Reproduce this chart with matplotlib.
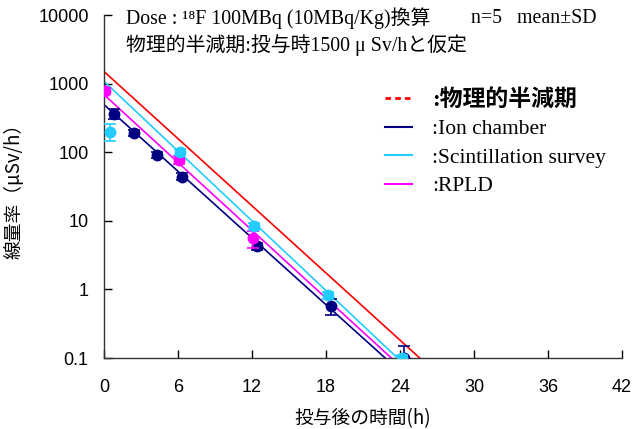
import numpy as np
import matplotlib.pyplot as plt
from matplotlib.lines import Line2D
from matplotlib.ticker import FixedLocator, FixedFormatter, NullLocator

# measured dose rates (mean, SD), n=5
ion_t = [0.8, 2.4, 4.3, 6.3, 12.4, 18.4, 24.3]
ion_y = [360, 190, 92, 44, 4.3, 0.58, 0.10]
ion_sd = [60, 20, 10, 5, 0.5, 0.15, 0.05]

sci_t = [0.5, 6.2, 12.2, 18.2, 24.2]
sci_y = [200, 100, 8.3, 0.82, 0.10]
sci_sd = [55, 10, 1.0, 0.1, 0.01]

rpld_t = [0.05, 6.05, 12.05]
rpld_y = [780, 78, 5.6]
rpld_sd = [80, 10, 1.6]

# decay lines: value at t=0 and time where they reach 0.1 uSv/h
phys_t = [0, 25.6]
phys_y = [1500, 0.1]
ion_fit_t = [0, 22.8]
ion_fit_y = [494, 0.1]
sci_fit_t = [0, 23.8]
sci_fit_y = [1080, 0.1]
rpld_fit_t = [0, 23.3]
rpld_fit_y = [690, 0.1]

RED = '#ff0000'
NAVY = '#000080'
CYAN = '#22ccff'
MAG = '#ff00ff'

jp = ['Noto Sans CJK JP', 'DejaVu Sans']
mix = ['Liberation Serif', 'DejaVu Serif', 'Noto Sans CJK JP']
num = ['Liberation Sans', 'DejaVu Sans']

fig = plt.figure(figsize=(6.32, 4.29), dpi=100)
ax = fig.add_axes([0.1646, 0.1655, 0.8194, 0.7995])

ax.plot(phys_t, phys_y, color=RED, lw=1.2, zorder=2)
ax.plot(sci_fit_t, sci_fit_y, color=CYAN, lw=1.2, zorder=2)
ax.plot(rpld_fit_t, rpld_fit_y, color=MAG, lw=1.2, zorder=2)
ax.plot(ion_fit_t, ion_fit_y, color=NAVY, lw=1.2, zorder=2)

ax.errorbar(ion_t, ion_y, yerr=ion_sd, fmt='o', color=NAVY, ms=7.5,
            capsize=4, elinewidth=1.2, capthick=1.2, zorder=3)
ax.errorbar(rpld_t, rpld_y, yerr=rpld_sd, fmt='o', color=MAG, ms=7.5,
            capsize=4, elinewidth=1.2, capthick=1.2, zorder=4)
ax.errorbar(sci_t, sci_y, yerr=sci_sd, fmt='o', color=CYAN, ms=7.5,
            capsize=4, elinewidth=1.2, capthick=1.2, zorder=5)

ax.set_yscale('log')
ax.set_xlim(0, 42)
ax.set_ylim(0.1, 10000)
ax.xaxis.set_major_locator(FixedLocator(range(0, 43, 6)))
yt = [0.1, 1, 10, 100, 1000, 10000]
ax.yaxis.set_major_locator(FixedLocator(yt))
ax.yaxis.set_major_formatter(FixedFormatter(['0.1', '1', '10', '100', '1000', '10000']))
ax.yaxis.set_minor_locator(NullLocator())
ax.tick_params(direction='in', length=6, width=1, labelsize=13)
ax.tick_params(axis='x', pad=15)
ax.tick_params(axis='y', pad=11)
for lab in ax.get_xticklabels() + ax.get_yticklabels():
    lab.set_family(num)
for s in ['top', 'right']:
    ax.spines[s].set_visible(False)
for s in ['left', 'bottom']:
    ax.spines[s].set_linewidth(1.0)
    ax.spines[s].set_color('#333333')

ax.set_xlabel('投与後の時間(h)', family=jp, fontsize=13.5, labelpad=9)
ax.set_ylabel('線量率（μSv/h）', family=jp, fontsize=13.5, labelpad=10)

# header lines
fig.text(0.2, 0.958, 'Dose : ¹⁸F 100MBq (10MBq/Kg)換算',
         family=mix, fontsize=14.3, va='center')
fig.text(0.745, 0.958, 'n=5   mean±SD',
         family=mix, fontsize=14.3, va='center')
fig.text(0.2, 0.895, '物理的半減期:投与時1500 μ Sv/hと仮定',
         family=mix, fontsize=14.3, va='center')

handles = [Line2D([], [], color=RED, lw=2, ls=(0, (2, 1.5))),
           Line2D([], [], color=NAVY, lw=1.5),
           Line2D([], [], color=CYAN, lw=1.5),
           Line2D([], [], color=MAG, lw=1.5)]
labels = [':物理的半減期', ':Ion chamber', ':Scintillation survey', ':RPLD']
leg = ax.legend(handles, labels, loc='upper left', bbox_to_anchor=(0.505, 0.842),
                frameon=False, handlelength=1.25, handletextpad=0.95,
                labelspacing=0.4, fontsize=15.5)
texts = leg.get_texts()
texts[0].set_family(['Liberation Serif', 'Noto Sans CJK JP'])
texts[0].set_fontsize(16.5)
texts[0].set_fontweight('bold')
for t in texts[1:]:
    t.set_family(mix)

fig.savefig('out.png', dpi=100)
